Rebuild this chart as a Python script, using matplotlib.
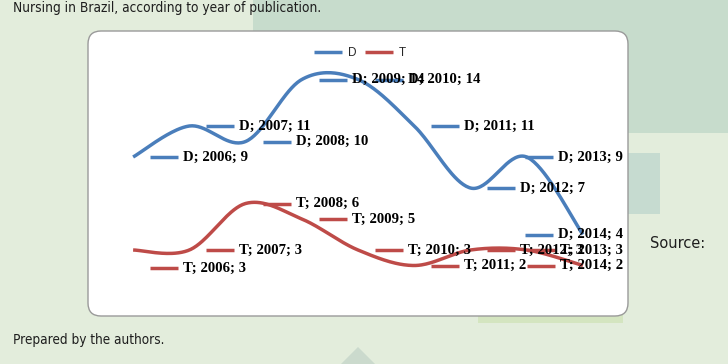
"""
Smoothed line chart of D and T publications per year (2006-2014),
drawn on top of a slide-like background. Saves out.png (728x364).
"""

import matplotlib

matplotlib.use("Agg")

import matplotlib.pyplot as plt
import numpy as np
from matplotlib import font_manager
from matplotlib.lines import Line2D
from matplotlib.patches import FancyBboxPatch, Polygon, Rectangle
from matplotlib.transforms import IdentityTransform

W, H, DPI = 728, 364, 100

YEARS = ["2006", "2007", "2008", "2009", "2010", "2011", "2012", "2013", "2014"]
D_VALUES = [9, 11, 10, 14, 14, 11, 7, 9, 4]
T_VALUES = [3, 3, 6, 5, 3, 2, 3, 3, 2]
SERIES_NAMES = ["D", "T"]

CAPTION_TOP = "Nursing in Brazil, according to year of publication."
SOURCE_LABEL = "Source:"
SOURCE_TEXT = "Prepared by the authors."

COLORS = {"D": "#4a7ebb", "T": "#be4b48"}
BG = "#e3eddc"
LINE_W = 2.5

# Excel pushed one label off its point; keep that nudge (pixels, down is +)
LABEL_NUDGE = {("T", 0): 18}

_names = {f.name for f in font_manager.fontManager.ttflist}
NARROW = "Liberation Sans Narrow" in _names
CAPTION_FONT = "Liberation Sans Narrow" if NARROW else "DejaVu Sans"


def disp(x, y):
    """Top-left pixel coordinates -> display coordinates."""
    return x, H - y


def smooth(values, steps=40):
    # Catmull-Rom curve through the points, same idea as Excel's smoothed line
    p = np.column_stack([np.arange(len(values)), values]).astype(float)
    ext = np.vstack([p[0], p, p[-1]])
    t = np.linspace(0, 1, steps)[:, None]
    h00 = 2 * t**3 - 3 * t**2 + 1
    h10 = t**3 - 2 * t**2 + t
    h01 = -2 * t**3 + 3 * t**2
    h11 = t**3 - t**2
    parts = []
    for i in range(len(p) - 1):
        p0, p1, p2, p3 = ext[i], ext[i + 1], ext[i + 2], ext[i + 3]
        seg = h00 * p1 + h10 * (p2 - p0) / 2 + h01 * p2 + h11 * (p3 - p1) / 2
        parts.append(seg if i == 0 else seg[1:])
    return np.vstack(parts)


def rect(fig, x0, y0, x1, y1, color, z=-20):
    fig.add_artist(Rectangle(disp(x0, y1), x1 - x0, y1 - y0, facecolor=color,
                             edgecolor="none", transform=IdentityTransform(), zorder=z))


def draw_background(fig):
    rect(fig, 253, 0, 728, 133, "#c7dccc")
    rect(fig, 560, 153, 660, 214, "#c6dbd0")
    rect(fig, 478, 290, 623, 323, "#d4e5c0")
    fig.add_artist(Polygon([disp(358, 347), disp(341, 364), disp(375, 364)], closed=True,
                           facecolor="#cbdacd", edgecolor="none",
                           transform=IdentityTransform(), zorder=-20))
    x0, y0 = disp(88, 316)
    fig.add_artist(FancyBboxPatch((x0, y0), 540, 285, boxstyle="round,pad=0,rounding_size=13",
                                  facecolor="white", edgecolor="#9a9a9a", linewidth=1.0,
                                  transform=IdentityTransform(), zorder=-5))


def fit_width(text, target, renderer, grow):
    w = text.get_window_extent(renderer).width
    text.set_fontsize(text.get_fontsize() * target / w * grow)


def draw_captions(fig, renderer):
    # the slide font is much narrower than what is installed: fit the width,
    # then let the long lines grow a bit so they keep a readable height
    grow_long = 1.0 if NARROW else 1.15
    specs = [
        (CAPTION_TOP, 13, 12, "baseline", 267, grow_long),
        (SOURCE_LABEL, 650, 243, "center", 55, 1.0),
        (SOURCE_TEXT, 13, 340, "center", 132, grow_long),
    ]
    for s, x, y, va, target, grow in specs:
        t = fig.text(*disp(x, y), s, transform=IdentityTransform(), ha="left", va=va,
                     fontsize=11, family=CAPTION_FONT, fontstretch="condensed",
                     color="#1e1e1e")
        fit_width(t, target, renderer, grow)


def draw_labels(ax, renderer, name, values):
    color = COLORS[name]
    right_limit = 623
    for i, (year, v) in enumerate(zip(YEARS, values)):
        px, py = ax.transData.transform((i, v))
        py -= LABEL_NUDGE.get((name, i), 0)
        t = ax.text(px + 50, py, f"{name}; {year}; {v}", transform=IdentityTransform(),
                    ha="left", va="center", family="Liberation Serif", weight="bold",
                    fontsize=10.6, color="black", zorder=5)
        bb = t.get_window_extent(renderer)
        shift = max(0, bb.x1 - right_limit)
        t.set_x(px + 50 - shift)
        ax.add_line(Line2D([px + 17 - shift, px + 45 - shift], [py, py], color=color,
                           linewidth=LINE_W, transform=IdentityTransform(), zorder=4,
                           solid_capstyle="butt"))


def main():
    fig = plt.figure(figsize=(W / DPI, H / DPI), dpi=DPI)
    fig.patch.set_facecolor(BG)
    renderer = fig.canvas.get_renderer()

    draw_background(fig)
    draw_captions(fig, renderer)

    ax = fig.add_axes([105 / W, 67.5 / H, 506 / W, 248 / H])
    ax.set_xlim(-0.5, len(YEARS) - 0.5)
    ax.set_ylim(0, 16)
    ax.axis("off")

    handles = []
    for name, values in zip(SERIES_NAMES, [D_VALUES, T_VALUES]):
        curve = smooth(values)
        (ln,) = ax.plot(curve[:, 0], curve[:, 1], color=COLORS[name], linewidth=LINE_W,
                        solid_capstyle="butt", zorder=2)
        handles.append(ln)

    for name, values in zip(SERIES_NAMES, [D_VALUES, T_VALUES]):
        draw_labels(ax, renderer, name, values)

    ax.legend(handles, SERIES_NAMES, ncol=2, loc="center", bbox_to_anchor=(0.504, 0.982),
              frameon=False, prop={"family": "Liberation Sans", "size": 8.5},
              handlelength=2.4, handletextpad=0.5, columnspacing=0.7,
              borderpad=0, borderaxespad=0, labelcolor="#262626")

    fig.savefig("out.png", dpi=DPI, facecolor=BG)
    plt.close(fig)


if __name__ == "__main__":
    main()
